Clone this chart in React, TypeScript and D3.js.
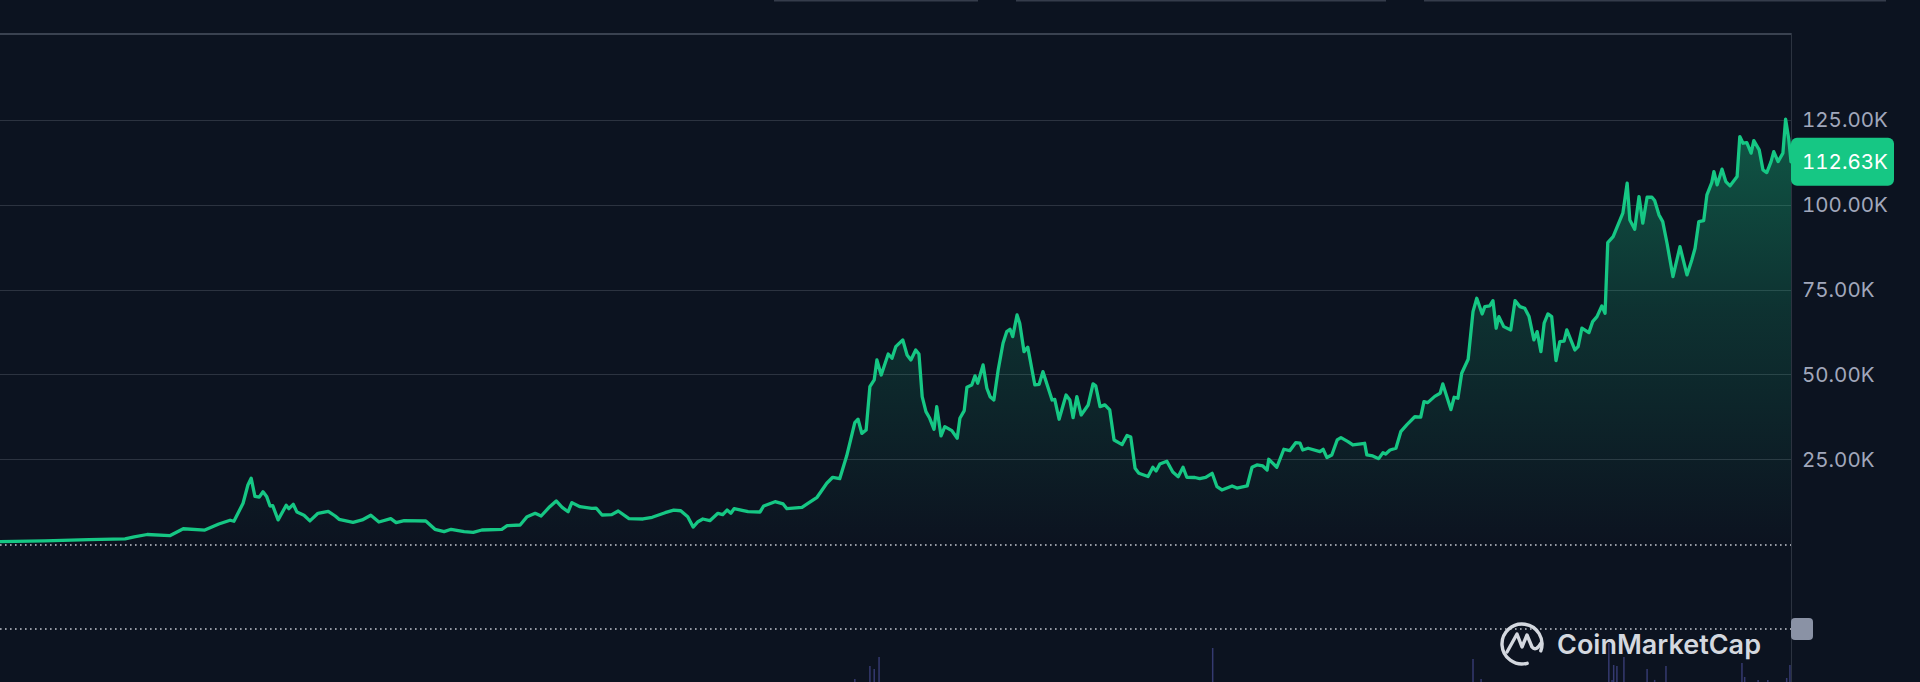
import React, { useEffect } from "react";
import * as d3 from "d3";

// ---- DATA ----
const START_DATE = new Date(Date.UTC(2016, 8, 7));
const END_OFFSET = 3323; // days shown after START_DATE

const dayOffsets = [
  0, 83, 165, 232, 249, 273, 315, 340, 380, 406, 427, 434, 451, 460, 466, 473, 481, 488, 495, 501,
  506, 516, 531, 536, 544, 551, 564, 575, 590, 609, 622, 629, 655, 672, 688, 703, 725, 735, 750, 790,
  807, 824, 837, 861, 878, 894, 931, 941, 965, 978, 993, 1004, 1020, 1032, 1043, 1054, 1061, 1076, 1098, 1106,
  1117, 1135, 1147, 1167, 1193, 1210, 1234, 1250, 1263, 1276, 1286, 1295, 1304, 1317, 1332, 1341, 1349, 1356, 1362, 1377,
  1388, 1410, 1417, 1438, 1453, 1460, 1488, 1499, 1516, 1534, 1545, 1558, 1571, 1586, 1592, 1599, 1607, 1614, 1622, 1627,
  1635, 1648, 1655, 1662, 1675, 1683, 1690, 1699, 1705, 1711, 1718, 1725, 1733, 1738, 1746, 1753, 1766, 1776, 1781, 1789,
  1794, 1803, 1809, 1814, 1824, 1831, 1837, 1844, 1852, 1861, 1868, 1874, 1879, 1887, 1892, 1900, 1907, 1920, 1928, 1935,
  1952, 1957, 1965, 1978, 1985, 1991, 1998, 2006, 2019, 2028, 2033, 2041, 2050, 2059, 2067, 2082, 2091, 2098, 2106, 2113,
  2130, 2139, 2145, 2152, 2165, 2176, 2186, 2195, 2202, 2217, 2226, 2237, 2249, 2258, 2267, 2286, 2295, 2314, 2323, 2332,
  2343, 2351, 2354, 2369, 2382, 2393, 2404, 2412, 2417, 2427, 2449, 2455, 2462, 2471, 2481, 2488, 2501, 2510, 2532, 2536,
  2547, 2558, 2566, 2571, 2579, 2590, 2599, 2610, 2625, 2636, 2642, 2649, 2662, 2672, 2677, 2692, 2698, 2705, 2712, 2724,
  2733, 2740, 2750, 2755, 2764, 2770, 2776, 2781, 2790, 2803, 2811, 2820, 2829, 2837, 2846, 2852, 2859, 2865, 2872, 2879,
  2887, 2894, 2902, 2907, 2922, 2928, 2935, 2948, 2955, 2963, 2972, 2978, 2983, 2993, 3011, 3019, 3024, 3033, 3041, 3048,
  3056, 3065, 3070, 3078, 3085, 3093, 3104, 3117, 3130, 3139, 3145, 3152, 3161, 3167, 3176, 3180, 3186, 3195, 3202, 3210,
  3223, 3228, 3234, 3241, 3249, 3254, 3264, 3271, 3278, 3286, 3291, 3299, 3308, 3313, 3319, 3323,
];

const prices = [
  700, 950, 1300, 1500, 2100, 2800, 2450, 4500, 4100, 5900, 7000, 6700, 12000, 17400, 19400, 14000, 13800, 15400, 13900, 11200,
  11300, 7100, 11400, 10400, 11700, 9400, 8460, 6800, 9050, 9640, 8250, 7280, 6400, 7080, 8460, 6490, 7460, 6280, 6870, 6780,
  4330, 3630, 4330, 3630, 3450, 4130, 4330, 5400, 5600, 8050, 9050, 8250, 11000, 12700, 10800, 9500, 12200, 11000, 10500, 10600,
  8550, 8640, 9730, 7460, 7370, 7870, 9230, 10000, 9800, 8050, 5000, 6570, 7370, 6870, 9050, 8640, 10000, 9050, 10400, 9930,
  9520, 9430, 11200, 12470, 11800, 10400, 10800, 12000, 13770, 17900, 19660, 19250, 26000, 35760, 36760, 32600, 33600, 46370, 48350, 54240,
  49820, 56000, 54740, 58160, 60140, 55700, 54240, 57190, 56000, 43420, 39000, 37050, 33800, 40480, 31840, 34580, 33400, 31160, 37050, 39300,
  46200, 46870, 49530, 47370, 52770, 45900, 43420, 42440, 51300, 59170, 62590, 63300, 61110, 67500, 65060, 56690, 58000, 46870, 47070, 50800,
  42440, 42640, 36760, 43920, 42440, 37240, 43420, 38030, 40980, 47170, 46580, 40480, 41000, 39500, 30660, 29300, 32000, 31500, 22300, 20840,
  19900, 22610, 21500, 23580, 24400, 21200, 19840, 22610, 19660, 19600, 19250, 19600, 20840, 16890, 15920, 17100, 16500, 17100, 22610, 23290,
  23000, 21800, 24970, 22610, 27920, 27500, 29860, 29700, 27710, 28210, 27210, 27900, 25470, 26240, 30660, 31340, 30160, 29180, 29680, 26240,
  25950, 25150, 26920, 26530, 27710, 28210, 33100, 35080, 37500, 37400, 41950, 41660, 43500, 44420, 47170, 39600, 43240, 42950, 50320, 54450,
  68480, 72430, 67800, 69960, 70160, 71720, 63590, 67010, 64060, 63090, 71720, 69960, 69470, 67010, 60140, 62590, 56690, 65060, 67800, 67010,
  54040, 59640, 59800, 63090, 57190, 58160, 63590, 62290, 65530, 67010, 70160, 68000, 88820, 90590, 97490, 106330, 95500, 92770, 102380, 94540,
  102180, 102200, 101200, 97000, 95010, 88620, 78800, 87620, 79300, 83720, 87170, 95010, 95300, 102880, 106510, 109750, 105830, 110460, 106810, 105540,
  108280, 120070, 118100, 118300, 115180, 118890, 116150, 110260, 109460, 112700, 115650, 112700, 115180, 125200, 119100, 112630,
];

// volume (billions USD), day offsets from START_DATE
const volDays = [1586, 1614, 1622, 1631, 2250, 2733, 2748, 2985, 2991, 2994, 3000, 3013, 3056, 3070, 3091, 3232, 3237, 3262, 3280, 3315, 3321];
const volValues = [14, 76, 62, 119, 162, 110, 14, 186, 10, 81, 76, 119, 62, 10, 76, 90, 24, 10, 10, 19, 81];

const yTicks = [25000, 50000, 75000, 100000, 125000];
const LAST_PRICE_LABEL = "112.63K";

// ---- STYLE ----
const W = 1920;
const H = 682;
const BG = "#0c1320";
const GREEN = "#16c784";
const AXIS_TEXT = "#a1a7bb";
const FONT = "Inter, 'Noto Sans', sans-serif";

export default function App() {
  useEffect(() => {
    document.body.style.margin = "0";
    document.body.style.background = BG;
  }, []);

  const plotRight = 1791;
  const x = d3
    .scaleUtc()
    .domain([START_DATE, d3.utcDay.offset(START_DATE, END_OFFSET)])
    .range([0, plotRight]);
  const y = d3.scaleLinear().domain([0, 150000]).range([544, 35]);
  const yVol = d3.scaleLinear().domain([0, 200]).range([682, 640]);

  const data = dayOffsets.map((d, i) => ({
    date: d3.utcDay.offset(START_DATE, d),
    price: prices[i],
  }));
  const vols = volDays.map((d, i) => ({ date: d3.utcDay.offset(START_DATE, d), v: volValues[i] }));

  const line = d3
    .line<{ date: Date; price: number }>()
    .x((d) => x(d.date))
    .y((d) => y(d.price))
    .curve(d3.curveLinear);
  const area = d3
    .area<{ date: Date; price: number }>()
    .x((d) => x(d.date))
    .y0(y(0))
    .y1((d) => y(d.price))
    .curve(d3.curveLinear);

  const last = data[data.length - 1];
  const lastY = y(last.price);

  // logo geometry
  const lcx = 1522;
  const lcy = 644;
  const lr = 20;
  const a1 = (75 * Math.PI) / 180;
  const a2 = (20 * Math.PI) / 180;
  const ringPath = `M${lcx + lr * Math.cos(a1)},${lcy + lr * Math.sin(a1)} A${lr},${lr} 0 1 1 ${lcx + lr * Math.cos(a2)},${lcy + lr * Math.sin(a2)}`;
  const mPath = `M${lcx - 15},${lcy + 8} L${lcx - 5},${lcy - 10} L${lcx},${lcy + 3} L${lcx + 5},${lcy - 9} L${lcx + 10},${lcy + 3} Q${lcx + 14},${lcy + 8} ${lcx + 19},${lcy - 1}`;

  const numStyle = { fontFeatureSettings: "'tnum' 1", fontVariantNumeric: "tabular-nums" } as React.CSSProperties;

  return (
    <svg
      width={W}
      height={H}
      style={{ display: "block", position: "absolute", left: 0, top: 0, background: BG }}
      fontFamily={FONT}
    >
      <defs>
        <linearGradient id="areaGrad" gradientUnits="userSpaceOnUse" x1="0" y1={y(125000)} x2="0" y2={y(0)}>
          <stop offset="0%" stopColor={GREEN} stopOpacity={0.38} />
          <stop offset="45%" stopColor={GREEN} stopOpacity={0.17} />
          <stop offset="100%" stopColor={GREEN} stopOpacity={0.0} />
        </linearGradient>
      </defs>
      <rect x={0} y={0} width={W} height={H} fill={BG} />

      {/* top cut-off buttons */}
      <rect x={774} y={0} width={204} height={1.5} fill="#353c4b" />
      <rect x={1016} y={0} width={370} height={1.5} fill="#353c4b" />
      <rect x={1424} y={0} width={462} height={1.5} fill="#353c4b" />

      {/* grid */}
      {yTicks.map((t) => (
        <line key={t} x1={0} x2={plotRight} y1={Math.round(y(t)) + 0.5} y2={Math.round(y(t)) + 0.5} stroke="#2c3340" strokeWidth={1} />
      ))}
      <line x1={0} x2={plotRight} y1={34} y2={34} stroke="#3a4250" strokeWidth={2} />
      <line x1={plotRight + 0.5} x2={plotRight + 0.5} y1={33} y2={H} stroke="#2c3340" strokeWidth={1} />

      {/* volume */}
      {vols.map((d, i) => (
        <line key={i} x1={x(d.date)} x2={x(d.date)} y1={yVol(0)} y2={yVol(d.v)} stroke="#353a70" strokeWidth={1.5} />
      ))}

      {/* area + line */}
      <path d={area(data) || ""} fill="url(#areaGrad)" />
      <path d={line(data) || ""} fill="none" stroke={GREEN} strokeWidth={3.3} strokeLinejoin="round" strokeLinecap="round" />

      {/* dotted lines */}
      <line x1={0} x2={plotRight} y1={545} y2={545} stroke="#c3c7cf" strokeWidth={1.6} strokeDasharray="1.6 3.4" />
      <line x1={0} x2={plotRight} y1={629} y2={629} stroke="#c3c7cf" strokeWidth={1.6} strokeDasharray="1.6 3.4" />

      {/* y axis labels */}
      {yTicks.map((t) => (
        <text key={t} x={1802} y={y(t)} dy="0.36em" fontSize={20.5} fill={AXIS_TEXT} style={numStyle}>
          {(t / 1000).toFixed(2) + "K"}
        </text>
      ))}

      {/* last price label */}
      <rect x={plotRight} y={lastY - 24} width={103} height={48} rx={6} fill={GREEN} />
      <text x={1802} y={lastY} dy="0.36em" fontSize={20.5} fill="#ffffff" style={numStyle}>
        {LAST_PRICE_LABEL}
      </text>

      {/* resize handle */}
      <rect x={1791} y={618} width={22} height={22} rx={4} fill="#8a92a5" />

      {/* watermark */}
      <g fill="none" stroke="#d4d8df" strokeWidth={3.4} strokeLinecap="round" strokeLinejoin="round">
        <path d={ringPath} />
        <path d={mPath} />
      </g>
      <text x={1557} y={654} fontSize={27} fontWeight={600} fill="#d4d8df">
        CoinMarketCap
      </text>
    </svg>
  );
}
